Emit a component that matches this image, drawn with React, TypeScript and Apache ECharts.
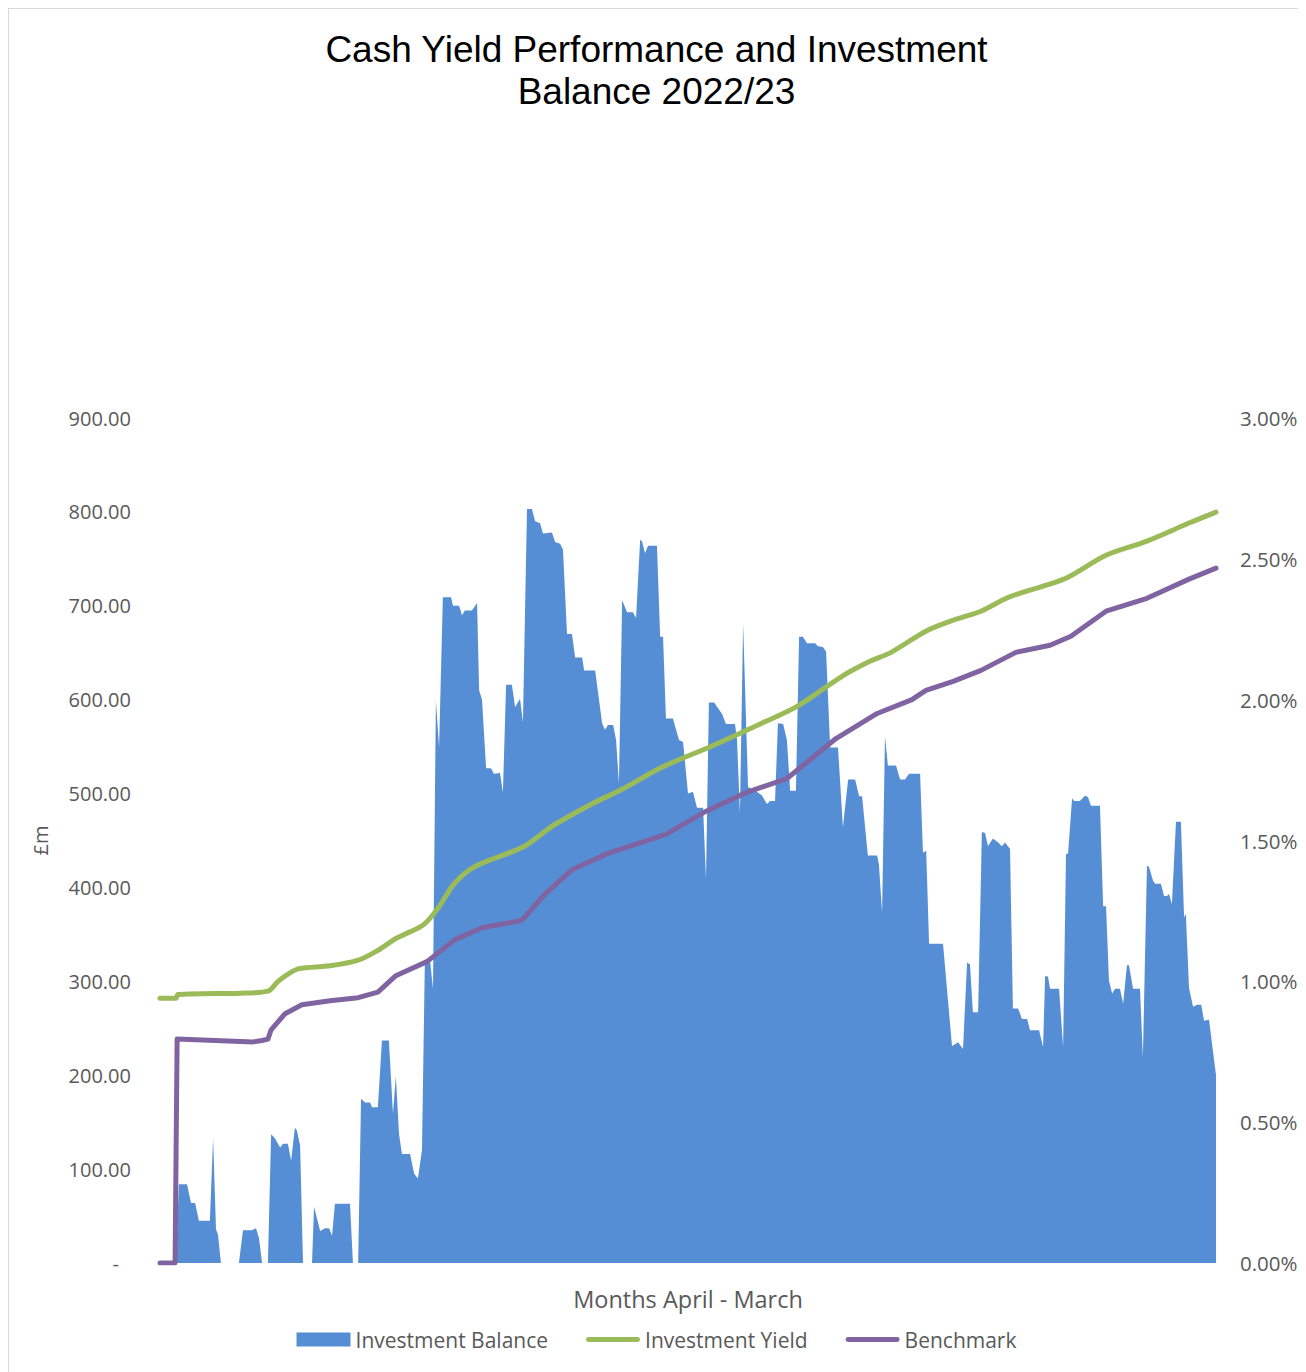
import React, { useEffect, useRef } from "react";
import * as echarts from "echarts";

// Day of financial year (0 = 1 April, 364 = 31 March) and investment balance (£m)
const balanceDays: number[] = [
  0, 5.5, 6.5, 9.3, 10.7, 12.1, 13.4, 17.2, 18.3, 19.3, 20, 21, 27.2, 28.6, 31.7, 33.1, 34.1, 35.2, 37.2, 38.3,
  39.6, 41.4, 42.4, 44.1, 45.2, 46.5, 47.2, 48.3, 49.3, 52.4, 53.1, 55.2, 56.9, 58.3, 59.3, 60.3, 65.5, 66.5, 68.3, 69.3,
  70.7, 72.4, 73.1, 75.1, 76.5, 78.9, 80.3, 81.3, 82.4, 83.4, 86.2, 87.6, 88.9, 90.3, 91.3, 93.1, 94.1, 95.1, 96.2, 97.5,
  100.3, 101, 103.1, 104.1, 105.1, 107.5, 109.3, 110, 111, 112.4, 114.1, 115.1, 117.2, 118.2, 119.3, 121.3, 122.4, 124.1, 125.1, 126.5,
  128.2, 129.3, 131, 132, 135.1, 136.2, 137.9, 138.9, 140.3, 142, 143.1, 145.5, 146.2, 150, 152.4, 153.4, 154.4, 156.2, 157.2, 158.2,
  159.3, 161, 163, 164.1, 165.5, 166.1, 167.2, 168.2, 171.3, 172.4, 173.4, 174.4, 176.8, 178.9, 180.3, 182, 183.7, 185.1, 187.2, 188.2,
  189.2, 191, 192.3, 193.7, 195.1, 198.2, 198.9, 199.9, 201, 202.7, 206.1, 207.5, 209.2, 210.3, 212, 213, 214.8, 216.1, 217.2, 219.2,
  220.3, 221.6, 223, 225.8, 226.8, 228.5, 229.6, 231, 233.7, 235.4, 237.2, 239.6, 241, 242, 244, 247.2, 247.8, 248.9, 249.9, 250.9,
  253.7, 255.1, 256.8, 258.2, 262, 263, 264.1, 265.1, 269.9, 273, 275.1, 276.8, 278.2, 279.2, 280.2, 282, 283.3, 284.4, 285.4, 287.1,
  288.9, 290.2, 291.3, 293, 294, 295.8, 297.1, 298.9, 299.9, 303, 304.4, 305.1, 306.1, 306.8, 309.9, 311.3, 312.3, 313, 314.4, 315.1,
  317.1, 318.9, 319.9, 320.9, 324, 325.1, 326.1, 327.1, 328.2, 329.2, 330.9, 332, 333.3, 334, 335.4, 337.8, 338.8, 340.2, 340.9, 342.3,
  343, 345, 346.1, 347.1, 347.8, 348.8, 350.2, 351.9, 353, 353.6, 354.7, 356.1, 357.5, 358.9, 359.9, 361.6, 364,
];
const balanceValues: number[] = [
  0, 0, 84, 84, 64, 64, 45, 45, 133, 36, 30, 0, 0, 35, 35, 37, 27, 0, 0, 137,
  133, 123, 127, 127, 109, 144, 141, 125, 0, 0, 60, 34, 37, 37, 29, 63, 63, 0, 0, 175,
  171, 171, 166, 166, 237, 237, 159, 199, 137, 116, 116, 95, 90, 120, 322, 322, 292, 599, 549, 709,
  709, 700, 700, 690, 695, 695, 703, 610, 600, 527, 527, 521, 522, 501, 616, 616, 592, 601, 576, 803,
  803, 790, 788, 777, 778, 768, 766, 760, 670, 670, 645, 645, 631, 631, 575, 568, 573, 573, 557, 511,
  706, 693, 693, 687, 770, 769, 756, 764, 764, 667, 667, 580, 580, 557, 555, 500, 502, 485, 485, 409,
  597, 597, 591, 585, 574, 574, 557, 479, 681, 507, 501, 498, 489, 492, 492, 575, 574, 557, 503, 503,
  667, 667, 660, 660, 657, 656, 651, 549, 549, 464, 515, 515, 497, 497, 434, 434, 425, 373, 561, 530,
  530, 515, 515, 521, 521, 437, 439, 340, 340, 231, 235, 228, 320, 318, 267, 267, 459, 458, 444, 452,
  448, 444, 448, 441, 271, 271, 260, 260, 248, 248, 230, 306, 305, 292, 292, 230, 436, 436, 495, 492,
  492, 498, 496, 487, 487, 380, 380, 301, 287, 292, 292, 276, 317, 317, 292, 292, 219, 423, 422, 407,
  404, 404, 391, 391, 393, 382, 470, 470, 368, 372, 293, 273, 275, 275, 258, 259, 200,
];

// Investment yield (%)
const yieldDays: number[] = [
  0, 5.5, 6.2, 27.6, 37.2, 40.7, 44.8, 47.9, 58.6, 68.3, 75.1, 81.3, 90.7, 95.5, 101.7, 108.6, 125.5, 135.1, 149.3, 158.9,
  173, 189.9, 206.5, 219.6, 235.1, 244.7, 252, 264, 273.4, 283, 292.6, 304.4, 313, 326.1, 340.2, 354.7, 364,
];
const yieldValues: number[] = [
  0.94, 0.94, 0.953, 0.958, 0.965, 1.0, 1.03, 1.045, 1.055, 1.075, 1.11, 1.152, 1.2, 1.255, 1.35, 1.408, 1.479, 1.55, 1.632, 1.68,
  1.76, 1.834, 1.912, 1.976, 2.083, 2.136, 2.168, 2.243, 2.282, 2.314, 2.364, 2.403, 2.435, 2.513, 2.563, 2.627, 2.666,
];

// Benchmark (%)
const benchDays: number[] = [
  0, 5.2, 5.9, 19, 32.1, 35.2, 37.2, 38.3, 43.1, 48.9, 58.6, 68.3, 75.1, 81.3, 92, 101.7, 111, 124.1, 125.5, 132.7,
  142, 154.1, 174.4, 187.5, 202, 216.1, 233, 247.2, 259.2, 264, 273.4, 283, 295, 306.8, 314, 326.1, 340.2, 354.7, 364,
];
const benchValues: number[] = [
  0, 0, 0.795, 0.79, 0.785, 0.79, 0.795, 0.828, 0.885, 0.917, 0.931, 0.942, 0.962, 1.02, 1.07, 1.148, 1.19, 1.215, 1.225, 1.31,
  1.396, 1.453, 1.522, 1.6, 1.67, 1.72, 1.862, 1.951, 2.0, 2.033, 2.065, 2.104, 2.168, 2.193, 2.225, 2.314, 2.36, 2.428, 2.467,
];

const titleText = "Cash Yield Performance and Investment\nBalance 2022/23";
const xAxisName = "Months April - March";
const leftAxisName = "£m";
const seriesNames = ["Investment Balance", "Investment Yield", "Benchmark"];

const zip = (a: number[], b: number[]) => a.map((d, i) => [d, b[i]]);

const FONT = "'Open Sans', sans-serif";
const GREY = "#595959";
const BLUE = "#558ED5";
const GREEN = "#9BBB59";
const PURPLE = "#8064A2";
const LINE_ICON = "path://M2.5,0 L52.5,0 A2.5,2.5 0 0 1 52.5,5 L2.5,5 A2.5,2.5 0 0 1 2.5,0 Z";

export default function App() {
  const ref = useRef<HTMLDivElement>(null);
  useEffect(() => {
    if (!ref.current) return;
    const chart = echarts.init(ref.current, undefined, { renderer: "svg" });
    chart.setOption({
      animation: false,
      backgroundColor: "#ffffff",
      title: {
        text: titleText,
        left: "center",
        top: 14,
        textStyle: {
          fontFamily: "'Liberation Sans', Arial, sans-serif",
          fontSize: 37,
          fontWeight: "normal",
          color: "#000000",
          lineHeight: 42,
        },
      },
      legend: {
        top: 1315,
        left: "center",
        itemWidth: 54,
        itemHeight: 14,
        itemGap: 38,
        textStyle: { fontFamily: FONT, fontSize: 21, color: GREY },
        data: [
          { name: seriesNames[0], icon: "rect", itemStyle: { color: BLUE } },
          { name: seriesNames[1], icon: LINE_ICON, itemStyle: { color: GREEN } },
          { name: seriesNames[2], icon: LINE_ICON, itemStyle: { color: PURPLE } },
        ],
      },
      grid: { left: 151, right: 88, top: 409, bottom: 117 },
      xAxis: {
        type: "value",
        min: 0,
        max: 364,
        name: xAxisName,
        nameLocation: "middle",
        nameGap: 24,
        nameTextStyle: { fontFamily: FONT, fontSize: 23.5, color: GREY },
        axisLine: { show: false },
        axisTick: { show: false },
        axisLabel: { show: false },
        splitLine: { show: false },
      },
      yAxis: [
        {
          type: "value",
          min: 0,
          max: 900,
          interval: 100,
          name: leftAxisName,
          nameLocation: "middle",
          nameGap: 110,
          nameRotate: 90,
          nameTextStyle: { fontFamily: FONT, fontSize: 20, color: GREY },
          axisLine: { show: false },
          axisTick: { show: false },
          splitLine: { show: false },
          axisLabel: {
            margin: 29,
            fontFamily: FONT,
            fontSize: 20,
            color: GREY,
            formatter: (v: number) => (v === 0 ? "{z|-}" : v.toFixed(2)),
            rich: { z: { fontFamily: FONT, fontSize: 20, color: GREY, padding: [0, 12, 0, 0] } },
          },
        },
        {
          type: "value",
          min: 0,
          max: 3,
          interval: 0.5,
          position: "right",
          axisLine: { show: false },
          axisTick: { show: false },
          splitLine: { show: false },
          axisLabel: {
            margin: 24,
            fontFamily: FONT,
            fontSize: 20.5,
            color: GREY,
            formatter: (v: number) => v.toFixed(2) + "%",
          },
        },
      ],
      series: [
        {
          name: seriesNames[0],
          type: "line",
          yAxisIndex: 0,
          data: zip(balanceDays, balanceValues),
          symbol: "none",
          lineStyle: { width: 0 },
          itemStyle: { color: BLUE },
          areaStyle: { color: BLUE, opacity: 1 },
          z: 1,
        },
        {
          name: seriesNames[1],
          type: "line",
          yAxisIndex: 1,
          data: zip(yieldDays, yieldValues),
          symbol: "none",
          smooth: 0.3,
          lineStyle: { width: 5, color: GREEN, cap: "round", join: "round" },
          itemStyle: { color: GREEN },
          z: 3,
        },
        {
          name: seriesNames[2],
          type: "line",
          yAxisIndex: 1,
          data: zip(benchDays, benchValues),
          symbol: "none",
          lineStyle: { width: 5, color: PURPLE, cap: "round", join: "round" },
          itemStyle: { color: PURPLE },
          z: 2,
        },
      ],
    });
    return () => chart.dispose();
  }, []);
  return (
    <div
      style={{
        width: 1297,
        height: 1372,
        boxSizing: "border-box",
        border: "1px solid #d9d9d9",
        borderBottom: "none",
        background: "#fff",
      }}
    >
      <div ref={ref} style={{ width: 1295, height: 1371 }} />
    </div>
  );
}
